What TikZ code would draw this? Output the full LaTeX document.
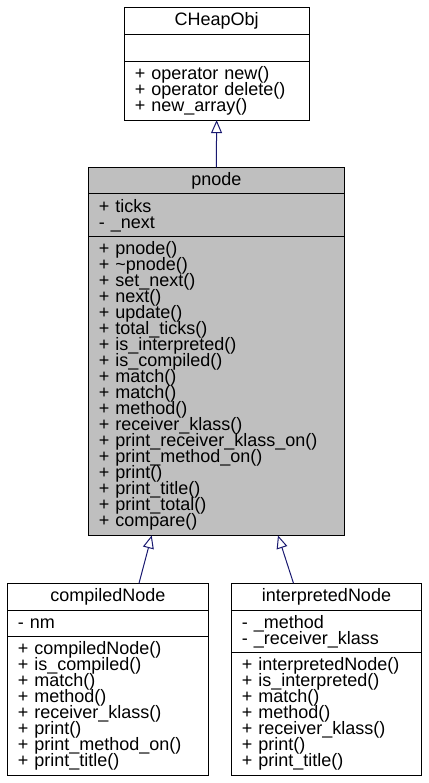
\documentclass[tikz,border=0pt]{standalone}
\usepackage{fontspec}
\setmainfont{Liberation Sans}
\usetikzlibrary{arrows.meta,positioning}
\definecolor{edgeblue}{HTML}{191970}
\newcommand\umlfont{\fontsize{18}{16}\selectfont\lineskiplimit=-50pt\relax}
\tikzset{
  box/.style={draw, line width=1pt, outer sep=0pt, inner ysep=0pt, font=\umlfont},
  classtitle/.style={box, anchor=north west, minimum height=26.7pt, inner xsep=0pt},
  members/.style={box, align=left, inner xsep=10.5pt},
  inherit/.style={draw=edgeblue, line width=1pt, -{Triangle[open, length=13pt, width=11pt]}},
}

\begin{document}
\begin{tikzpicture}[x=1pt, y=1pt]
  \useasboundingbox (0,0) rectangle (428,-783);

  % base class
  \node[classtitle, minimum width=184.7pt] (heap) at (124.3,-8) {CHeapObj};
  \node[members, text width=163.7pt, minimum height=26.7pt, below=0pt of heap] (heap attrs) {};
  \node[members, text width=163.7pt, minimum height=58.7pt, below=0pt of heap attrs] (heap ops)
    {+ operator new()\\+ operator delete()\\+ new\_array()};

  % pnode
  \node[classtitle, minimum width=256pt, fill=black!25] (pnode) at (88.3,-167.3) {pnode};
  \node[members, text width=235pt, minimum height=42.7pt, fill=black!25, below=0pt of pnode] (pnode attrs)
    {+ ticks\\- \_next};
  \node[members, text width=235pt, minimum height=298.7pt, fill=black!25, below=0pt of pnode attrs] (pnode ops)
    {+ pnode()\\+ \textasciitilde pnode()\\+ set\_next()\\+ next()\\+ update()\\+ total\_ticks()\\
     + is\_interpreted()\\+ is\_compiled()\\+ match()\\+ match()\\+ method()\\+ receiver\_klass()\\
     + print\_receiver\_klass\_on()\\+ print\_method\_on()\\+ print()\\+ print\_title()\\
     + print\_total()\\+ compare()};

  % compiledNode
  \node[classtitle, minimum width=201.4pt] (compiled) at (7.3,-583.3) {compiledNode};
  \node[members, text width=180.4pt, minimum height=26.7pt, below=0pt of compiled] (compiled attrs)
    {- nm};
  \node[members, text width=180.4pt, minimum height=138.7pt, below=0pt of compiled attrs] (compiled ops)
    {+ compiledNode()\\+ is\_compiled()\\+ match()\\+ method()\\+ receiver\_klass()\\+ print()\\
     + print\_method\_on()\\+ print\_title()};

  % interpretedNode
  \node[classtitle, minimum width=190.4pt] (interp) at (231.3,-583.3) {interpretedNode};
  \node[members, text width=169.4pt, minimum height=42.7pt, below=0pt of interp] (interp attrs)
    {- \_method\\- \_receiver\_klass};
  \node[members, text width=169.4pt, minimum height=122.7pt, below=0pt of interp attrs] (interp ops)
    {+ interpretedNode()\\+ is\_interpreted()\\+ match()\\+ method()\\+ receiver\_klass()\\
     + print()\\+ print\_title()};

  % generalisation
  \draw[inherit] (pnode.north) -- (heap ops.south);
  \draw[inherit] ([xshift=31pt]compiled.north) -- ([xshift=-64.6pt]pnode ops.south);
  \draw[inherit] ([xshift=-33pt]interp.north) -- ([xshift=61.7pt]pnode ops.south);
\end{tikzpicture}
\end{document}
